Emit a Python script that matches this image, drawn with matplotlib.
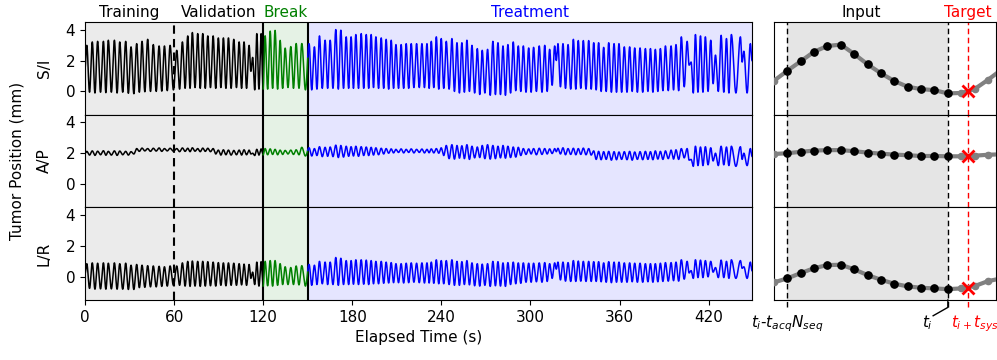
import numpy as np
import matplotlib
matplotlib.use("Agg")
import matplotlib.pyplot as plt

# ---------------- data ----------------
T_END = 449.2
# breathing peak times (s)
train_t = [1.2, 4.9, 8.5, 12.4, 15.7, 19.8, 23.4, 27.4, 31.0, 34.8, 38.4, 42.2, 46.0, 49.9, 53.5, 57.3]
val_t = [61.8, 65.6, 69.2, 72.3, 75.9, 79.3, 82.7, 86.3, 89.8, 93.2, 96.6, 100.2, 103.8, 107.1,
         110.5, 112.9, 115.7, 118.6]
break_t = [121.3, 124.7, 128.0, 131.4, 134.8, 138.6, 142.2, 146.0]
treat_t = [150.9, 154.5, 157.9, 161.7, 165.1, 168.9, 172.3, 175.9, 179.2, 182.4, 186.0, 189.4, 192.7, 195.9, 199.5,
           202.8, 206.2, 209.4, 212.9, 216.3, 219.7, 223.3, 226.9, 230.3, 233.2, 236.6, 239.9,
           243.3, 247.1, 250.5, 253.8, 257.2, 260.6, 264.2, 267.5, 271.1, 274.7, 278.1, 281.5, 284.8, 288.4, 291.8,
           295.2, 298.8, 302.1, 305.9, 309.6, 312.9, 316.3, 318.5, 321.9, 325.3, 328.9, 332.2, 335.6, 339.2,
           342.6, 345.9, 349.3, 352.7, 356.3, 359.6, 363.2, 366.8, 370.2, 373.8, 377.4, 380.8, 384.1, 387.5,
           390.9, 394.7, 398.0, 401.6,
           405.5, 408.2, 411.1, 414.5, 417.8, 421.4, 424.6, 428.4, 432.0, 435.3, 441.4, 443.7, 448.1]

# S/I peaks and following troughs (mm)
si_start = 1.5
si_pk = [2.98, 3.2, 3.24, 3.24, 3.31, 3.31, 3.2, 3.24, 2.88, 3.09, 3.24, 3.37, 3.03, 2.94, 2.94, 2.98,
         2.66, 3.2, 3.59, 3.81, 3.74, 3.74, 3.59, 3.59, 3.46, 3.46, 3.46, 3.37, 3.2, 3.2, 2.98, 2.2, 3.74, 3.74,
         3.6, 3.9, 3.95, 3.3, 2.8, 2.9, 3.1, 3.1,
         3.09, 2.88, 3.59, 3.31, 3.31, 4.0, 3.96, 3.53, 3.53, 3.68, 3.74, 3.68, 3.68, 3.53, 3.46,
         3.37, 3.31, 3.03, 3.03, 3.09, 3.09, 3.09, 3.09, 3.09, 3.24, 3.53, 3.42,
         3.24, 3.42, 3.15, 3.15, 3.31, 2.98, 2.77, 2.66, 2.72, 3.24, 3.15, 2.94, 3.03, 3.2, 2.94,
         2.94, 2.81, 2.85, 2.94, 2.98, 2.72, 2.94, 3.09, 3.09, 3.03, 3.37, 3.29, 3.29, 3.29,
         3.15, 3.15, 2.85, 3.15, 3.09, 3.09, 2.88, 2.88, 2.81, 2.81, 2.77, 2.77, 2.72, 2.77, 2.94, 2.94, 3.03, 3.53,
         3.24, 1.9, 3.68, 3.59, 3.53, 3.31, 2.35, 3.63, 3.42, 3.68, 3.53, 2.6, 3.09]
si_tr = [-0.05, -0.1, -0.05, -0.08, -0.05, -0.1, -0.05, -0.12, -0.15, -0.05, -0.02, 0.0, 0.0, 0.02, 0.05, 0.1,
         0.15, 0.2, 0.2, 0.25, 0.2, 0.2, 0.25, 0.2, 0.25, 0.2, 0.2, 0.25, 0.2, 0.2, 1.3, 0.1, 0.15, 0.15,
         0.15, 0.2, 0.15, 0.2, 0.25, 0.2, 0.2, 0.1,
         0.1, 0.15, 0.2, 0.2, 0.2, 0.15, 0.2, 0.2, 0.2, 0.2, 0.2, 0.2, 0.25, 0.2, 0.2,
         0.15, 0.2, 0.2, 0.2, 0.2, 0.25, 0.25, 0.25, 0.2, 0.25, 0.15, 0.2,
         0.15, 0.0, -0.1, -0.05, 0.0, -0.1, -0.2, -0.1, -0.25, -0.2, -0.2, -0.25, -0.1, 0.05, 0.0,
         -0.05, -0.05, 0.0, -0.05, 0.0, 0.4, 2.0, 0.3, 0.2, 0.15, 0.15, 0.2, 0.15, 0.15,
         0.1, 0.0, 0.0, -0.05, -0.05, -0.05, -0.05, 0.0, -0.05, -0.05, 0.0, -0.05, 0.0, 0.05, 0.05, 0.1, 0.05, 0.3,
         1.7, -0.1, -0.05, -0.05, 0.0, 0.5, 0.0, -0.05, -0.1, -0.1, 1.9, -0.1, 2.0]

# A/P
ap_start = 2.0
ap_pk = [2.12, 2.15, 2.13, 2.16, 2.12, 2.15, 2.14, 2.12, 2.1, 2.3, 2.33, 2.3, 2.32, 2.34, 2.3, 2.32,
         2.3, 2.34, 2.32, 2.35, 2.3, 2.33, 2.32, 2.3, 2.2, 2.22, 2.2, 2.18, 2.2, 2.22, 2.2, 2.0, 2.25, 2.28,
         2.3, 2.28, 2.25, 2.2, 2.18, 2.2, 2.22, 2.38,
         2.35, 2.3, 2.42, 2.38, 2.4, 2.52, 2.5, 2.45, 2.42, 2.45, 2.42, 2.4, 2.38, 2.35, 2.32,
         2.3, 2.28, 2.25, 2.28, 2.25, 2.28, 2.25, 2.27, 2.25, 2.28, 2.3, 2.35,
         2.5, 2.55, 2.5, 2.48, 2.55, 2.45, 2.4, 2.5, 2.55, 2.5, 2.45, 2.5, 2.45, 2.4, 2.38,
         2.3, 2.28, 2.3, 2.32, 2.3, 2.28, 2.3, 2.32, 2.35, 2.3, 2.32, 2.3, 2.33, 2.3,
         2.15, 2.12, 2.1, 2.12, 2.1, 2.08, 2.1, 2.12, 2.08, 2.1, 2.12, 2.1, 2.15, 2.12, 2.15, 2.2, 2.22, 2.3,
         2.3, 1.6, 2.45, 2.4, 2.42, 2.35, 2.0, 2.45, 2.4, 2.45, 2.42, 2.0, 2.3]
ap_tr = [1.88, 1.86, 1.9, 1.87, 1.88, 1.86, 1.9, 1.88, 1.95, 2.12, 2.15, 2.12, 2.14, 2.12, 2.15, 2.13,
         2.1, 2.12, 2.1, 2.13, 2.1, 2.12, 2.1, 1.95, 1.88, 1.9, 1.88, 1.9, 1.88, 1.9, 1.95, 1.85, 1.88, 1.9,
         1.9, 1.92, 1.9, 1.92, 1.95, 1.92, 1.9, 1.82,
         1.82, 1.85, 1.78, 1.8, 1.78, 1.72, 1.75, 1.8, 1.82, 1.8, 1.85, 1.85, 1.88, 1.9, 1.95,
         2.0, 2.02, 2.05, 2.02, 2.05, 2.02, 2.05, 2.02, 2.03, 2.02, 2.0, 1.85,
         1.65, 1.62, 1.68, 1.65, 1.6, 1.7, 1.72, 1.65, 1.62, 1.65, 1.7, 1.68, 1.72, 1.75, 1.85,
         1.92, 1.95, 1.9, 1.92, 1.95, 1.98, 2.1, 1.95, 1.9, 1.92, 1.9, 1.92, 1.9, 1.88,
         1.6, 1.58, 1.6, 1.55, 1.58, 1.6, 1.58, 1.55, 1.6, 1.58, 1.6, 1.58, 1.62, 1.6, 1.65, 1.62, 1.6, 1.7,
         1.55, 1.15, 1.2, 1.2, 1.25, 1.5, 1.2, 1.25, 1.2, 1.15, 1.6, 1.2, 1.8]

# L/R
lr_start = 0.2
lr_pk = [0.85, 0.9, 0.88, 0.9, 0.88, 0.9, 0.85, 0.88, 0.75, 0.8, 0.75, 0.72, 0.7, 0.68, 0.65, 0.7,
         0.7, 0.9, 1.0, 1.02, 1.0, 1.0, 0.98, 0.95, 0.92, 0.9, 0.9, 0.88, 0.85, 0.82, 0.8, 0.3, 0.95, 0.98,
         1.0, 1.05, 1.05, 0.85, 0.65, 0.6, 0.7, 0.72,
         0.8, 0.75, 1.0, 0.95, 0.95, 1.25, 1.2, 1.05, 1.05, 1.1, 1.1, 1.08, 1.05, 1.0, 1.0,
         0.95, 0.92, 0.85, 0.85, 0.88, 0.9, 0.88, 0.9, 0.9, 0.95, 1.1, 1.05,
         1.05, 1.1, 1.0, 0.98, 1.05, 0.9, 0.85, 0.82, 0.85, 1.0, 0.98, 0.9, 0.92, 0.95, 0.9,
         0.9, 0.88, 0.88, 0.9, 0.92, 0.85, 0.9, 0.95, 0.95, 0.92, 1.05, 1.02, 1.0, 1.0,
         0.98, 0.98, 0.9, 0.98, 0.95, 0.95, 0.9, 0.9, 0.88, 0.88, 0.85, 0.85, 0.85, 0.88, 0.92, 0.92, 0.95, 1.1,
         1.0, 0.4, 1.1, 1.08, 1.05, 1.0, 0.6, 1.08, 1.0, 1.1, 1.05, 0.65, 0.95]
lr_tr = [-0.75, -0.8, -0.78, -0.8, -0.78, -0.8, -0.8, -0.82, -0.82, -0.7, -0.68, -0.65, -0.65, -0.62, -0.6, -0.55,
         -0.55, -0.6, -0.62, -0.6, -0.62, -0.6, -0.58, -0.6, -0.55, -0.58, -0.55, -0.55, -0.52, -0.55, -0.1, -0.5, -0.6, -0.6,
         -0.58, -0.6, -0.55, -0.5, -0.5, -0.5, -0.52, -0.6,
         -0.55, -0.5, -0.45, -0.5, -0.5, -0.55, -0.5, -0.5, -0.48, -0.5, -0.48, -0.5, -0.45, -0.45, -0.42,
         -0.4, -0.38, -0.38, -0.4, -0.38, -0.35, -0.38, -0.4, -0.4, -0.42, -0.45, -0.45,
         -0.5, -0.55, -0.55, -0.5, -0.52, -0.58, -0.6, -0.55, -0.62, -0.58, -0.6, -0.62, -0.5, -0.45, -0.42,
         -0.35, -0.35, -0.32, -0.35, -0.3, -0.1, 0.5, -0.2, -0.28, -0.3, -0.3, -0.28, -0.3, -0.3,
         -0.3, -0.32, -0.35, -0.38, -0.35, -0.35, -0.35, -0.32, -0.35, -0.35, -0.32, -0.35, -0.32, -0.3, -0.28, -0.25, -0.28, -0.15,
         0.25, -0.1, -0.05, -0.05, 0.0, 0.3, -0.05, -0.05, -0.1, -0.1, 0.55, -0.1, 0.4]

# input window (right panels): samples -1 .. 16, t_i at sample 12
win_idx = list(range(-1, 17))
si_win = [0.69, 1.34, 1.95, 2.57, 2.94, 3.03, 2.42, 1.75, 1.17, 0.67, 0.30, 0.15, 0.08, -0.13, -0.10, 0.15, 0.75, 1.40]
ap_win = [1.95, 2.0, 2.09, 2.17, 2.2, 2.2, 2.13, 2.04, 1.97, 1.91, 1.87, 1.82, 1.82, 1.8, 1.8, 1.84, 1.9, 1.93]
lr_win = [-0.36, -0.1, 0.24, 0.56, 0.76, 0.78, 0.48, 0.11, -0.19, -0.45, -0.62, -0.71, -0.75, -0.8, -0.75, -0.6, -0.28, -0.1]
target_pos = 13.5
target_vals = [0.0, 1.82, -0.71]

# ---------------- helpers ----------------
peak_t = train_t + val_t + break_t + treat_t


def breathing_curve(start, pk, tr):
    T = [0.0]
    V = [start]
    for i, tp in enumerate(peak_t):
        T.append(tp)
        V.append(pk[i])
        tt = (tp + peak_t[i + 1]) / 2 if i < len(peak_t) - 1 else T_END
        T.append(tt)
        V.append(tr[i])
    T = np.array(T)
    V = np.array(V)
    t = np.linspace(0, T_END, 22000)
    idx = np.clip(np.searchsorted(T, t, side="right") - 1, 0, len(T) - 2)
    u = (t - T[idx]) / (T[idx + 1] - T[idx])
    y = V[idx] + (V[idx + 1] - V[idx]) * (1 - np.cos(np.pi * u)) / 2
    return t, y


# ---------------- figure ----------------
fig = plt.figure(figsize=(9.97, 3.6), dpi=100)
FS = 11
plt.rcParams["font.size"] = FS

L_left, L_w = 85 / 997, 667 / 997
R_left, R_w = 774 / 997, 222 / 997
bot, h = 0.1667, 0.2575

names = ["S/I", "A/P", "L/R"]
curves = [(si_start, si_pk, si_tr), (ap_start, ap_pk, ap_tr), (lr_start, lr_pk, lr_tr)]
wins = [si_win, ap_win, lr_win]

left_axes = []
right_axes = []
for row in range(3):
    y0 = bot + (2 - row) * h
    axl = fig.add_axes([L_left, y0, L_w, h])
    axr = fig.add_axes([R_left, y0, R_w, h])
    left_axes.append(axl)
    right_axes.append(axr)

    # left: shading
    axl.axvspan(0, 120, color="black", alpha=0.08, lw=0)
    axl.axvspan(120, 150, color="green", alpha=0.1, lw=0)
    axl.axvspan(150, T_END, color="blue", alpha=0.1, lw=0)
    axl.axvline(60, color="black", ls="--", lw=1.5, dashes=(4, 2.5))
    axl.axvline(120, color="black", lw=1.5)
    axl.axvline(150, color="black", lw=1.5)

    t, y = breathing_curve(*curves[row])
    m1 = t <= 120
    m2 = (t >= 120) & (t <= 150)
    m3 = t >= 150
    axl.plot(t[m1], y[m1], color="black", lw=1.1)
    axl.plot(t[m2], y[m2], color="green", lw=1.1)
    axl.plot(t[m3], y[m3], color="blue", lw=1.1)

    axl.set_xlim(0, T_END)
    axl.set_ylim(-1.5, 4.5)
    axl.set_yticks([0, 2, 4])
    axl.set_ylabel(names[row], fontsize=FS, labelpad=10)
    axl.tick_params(labelsize=FS)
    if row < 2:
        axl.tick_params(bottom=False, labelbottom=False)
    else:
        axl.set_xticks(np.arange(0, 421, 60))
        axl.set_xlabel("Elapsed Time (s)", fontsize=FS)

    # right: input window
    axr.axvspan(0, 12, color="black", alpha=0.1, lw=0)
    ext = (row == 2)
    ymin = -0.08 if ext else 0
    axr.axvline(0, ymin=ymin, color="black", ls="--", lw=1.0, clip_on=not ext, dashes=(4, 2.5))
    axr.axvline(12, ymin=ymin, color="black", ls="--", lw=1.0, clip_on=not ext, dashes=(4, 2.5))
    axr.axvline(target_pos, ymin=ymin, color="red", ls="--", lw=1.0, clip_on=not ext, dashes=(4, 2.5))
    axr.plot(win_idx, wins[row], color="gray", lw=3, marker="o", ms=4.5, zorder=3)
    axr.plot(win_idx[1:14], wins[row][1:14], ls="none", marker="o", color="black", ms=5.2, zorder=4)
    axr.plot([target_pos], [target_vals[row]], marker="x", color="red", ms=9, mew=2, zorder=5)
    axr.set_xlim(-1, 15.6)
    axr.set_ylim(-1.5, 4.5)
    axr.set_xticks([])
    axr.set_yticks([])

# titles
top = left_axes[0]
trans = top.get_xaxis_transform()
for x, txt, c in [(30, "Training", "black"), (90, "Validation", "black"),
                  (135, "Break", "green"), (300, "Treatment", "blue")]:
    top.text(x, 1.015, txt, transform=trans, ha="center", va="bottom", color=c, fontsize=FS)
rt = right_axes[0]
rtrans = rt.get_xaxis_transform()
rt.text(5.5, 1.015, "Input", transform=rtrans, ha="center", va="bottom", fontsize=FS)
rt.text(target_pos, 1.015, "Target", transform=rtrans, ha="center", va="bottom", color="red", fontsize=FS)

# bottom labels of the right panel
rb = right_axes[2]
btrans = rb.get_xaxis_transform()
rb.plot([12, 12, 10.9], [0, -0.08, -0.17], color="black", lw=1.0, transform=btrans, clip_on=False)
rb.text(0, -0.14, r"$t_i$-$t_{acq}N_{seq}$", transform=btrans, ha="center", va="top", fontsize=FS)
rb.text(10.45, -0.14, r"$t_i$", transform=btrans, ha="center", va="top", fontsize=FS)
rb.text(target_pos + 0.5, -0.14, r"$t_{i+}t_{sys}$", transform=btrans, ha="center", va="top",
        color="red", fontsize=FS)

fig.text(0.017, bot + 1.5 * h, "Tumor Position (mm)", rotation=90, ha="center", va="center", fontsize=FS)

fig.savefig("out.png", dpi=100)
